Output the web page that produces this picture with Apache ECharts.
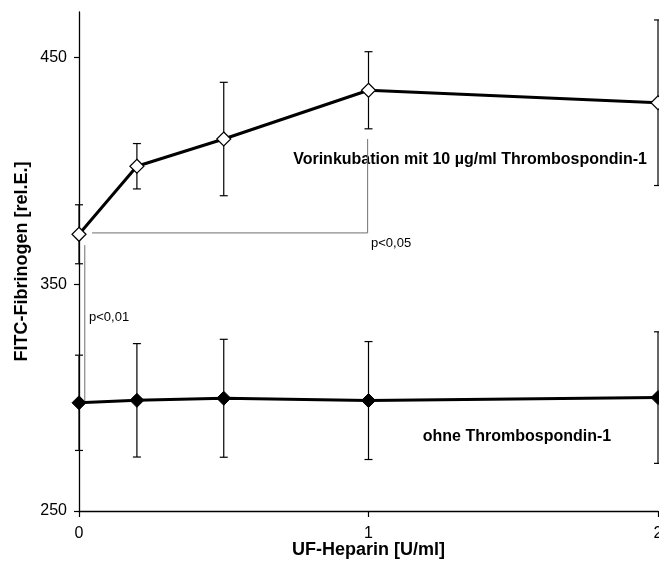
<!DOCTYPE html>
<html>
<head>
<meta charset="utf-8">
<script src="https://cdn.jsdelivr.net/npm/echarts@6/dist/echarts.min.js"></script>
<style>
  html, body { margin: 0; padding: 0; background: #fff; }
  #chart { width: 659px; height: 569px; }
</style>
</head>
<body>
<div id="chart"></div>
<script>
// UF-Heparin concentrations [U/ml]
const heparin = [0, 0.2, 0.5, 1, 2];
// FITC-Fibrinogen binding after pre-incubation with 10 µg/ml Thrombospondin-1
const withTsp = [372, 402, 414, 435.5, 430];
const withTspErr = [13, 10, 25, 17, 36.5];
// FITC-Fibrinogen binding without Thrombospondin-1
const withoutTsp = [297.7, 298.8, 299.7, 298.7, 300];
const withoutTspErr = [21, 25, 26, 26, 29];
// axis ticks
const xTicks = [0, 1, 2];
const yTicks = [250, 350, 450];
// significance brackets (heparin, fibrinogen)
const bracketP05 = [[0.045, 372.6], [0.997, 372.6], [0.997, 414]];
const bracketP01 = [[0.02, 367.2], [0.02, 298.4]];

const chart = echarts.init(document.getElementById('chart'), null, { renderer: 'canvas' });

function pairs(xs, ys) { return xs.map((x, i) => [x, ys[i]]); }
function errData(xs, ys, es) { return xs.map((x, i) => [x, ys[i], es[i]]); }

function renderErr(params, api) {
  const x = api.value(0), y = api.value(1), e = api.value(2);
  const top = api.coord([x, y + e]);
  const bot = api.coord([x, y - e]);
  const cap = 4;
  const style = { stroke: '#000', lineWidth: 1.2 };
  return {
    type: 'group',
    children: [
      { type: 'line', shape: { x1: top[0], y1: top[1], x2: bot[0], y2: bot[1] }, style },
      { type: 'line', shape: { x1: top[0] - cap, y1: top[1], x2: top[0] + cap, y2: top[1] }, style },
      { type: 'line', shape: { x1: bot[0] - cap, y1: bot[1], x2: bot[0] + cap, y2: bot[1] }, style }
    ]
  };
}

const font = 'Liberation Sans, Arial, sans-serif';

chart.setOption({
  animation: false,
  backgroundColor: '#fff',
  grid: { left: 79, right: 1, top: 12, bottom: 58, containLabel: false, outerBoundsMode: 'none' },
  xAxis: {
    type: 'value', min: 0, max: 2, interval: 1,
    name: 'UF-Heparin [U/ml]', nameLocation: 'middle', nameGap: 30, nameMoveOverlap: false,
    nameTextStyle: { fontFamily: font, fontWeight: 'bold', fontSize: 18, color: '#000' },
    axisLine: { onZero: false, lineStyle: { color: '#000', width: 1.3 } },
    axisTick: { length: 6, lineStyle: { color: '#000', width: 1.2 }, customValues: xTicks },
    axisLabel: { customValues: xTicks, fontFamily: font, fontSize: 16, color: '#000', margin: 15 },
    splitLine: { show: false }
  },
  yAxis: {
    type: 'value', min: 250, max: 470,
    name: 'FITC-Fibrinogen [rel.E.]', nameLocation: 'middle', nameGap: 48, nameMoveOverlap: false,
    nameTextStyle: { fontFamily: font, fontWeight: 'bold', fontSize: 18, color: '#000' },
    axisLine: { onZero: false, lineStyle: { color: '#000', width: 1.3 } },
    axisTick: { length: 5, lineStyle: { color: '#000', width: 1.2 }, customValues: yTicks },
    axisLabel: { customValues: yTicks, fontFamily: font, fontSize: 16, color: '#000', margin: 12 },
    splitLine: { show: false }
  },
  series: [
    {
      type: 'line', data: bracketP05, symbol: 'none', silent: true, z: 1,
      lineStyle: { color: '#707070', width: 1 }
    },
    {
      type: 'line', data: bracketP01, symbol: 'none', silent: true, z: 1,
      lineStyle: { color: '#707070', width: 1 }
    },
    {
      type: 'custom', renderItem: renderErr, data: errData(heparin, withTsp, withTspErr), z: 2, silent: true
    },
    {
      type: 'custom', renderItem: renderErr, data: errData(heparin, withoutTsp, withoutTspErr), z: 2, silent: true
    },
    {
      name: 'Vorinkubation mit 10 µg/ml Thrombospondin-1',
      type: 'line', data: pairs(heparin, withTsp), z: 3,
      symbol: 'diamond', symbolSize: [14, 14], showAllSymbol: true,
      lineStyle: { color: '#000', width: 3 },
      itemStyle: { color: '#fff', borderColor: '#000', borderWidth: 1.2 }
    },
    {
      name: 'ohne Thrombospondin-1',
      type: 'line', data: pairs(heparin, withoutTsp), z: 3,
      symbol: 'diamond', symbolSize: [14, 14], showAllSymbol: true,
      lineStyle: { color: '#000', width: 3 },
      itemStyle: { color: '#000', borderColor: '#000', borderWidth: 1 }
    }
  ],
  graphic: [
    {
      type: 'text', x: 647, y: 160, silent: true,
      style: { text: 'Vorinkubation mit 10 µg/ml Thrombospondin-1', font: 'bold 16px ' + font,
        fill: '#000', textAlign: 'right', textVerticalAlign: 'middle' }
    },
    {
      type: 'text', x: 517, y: 437, silent: true,
      style: { text: 'ohne Thrombospondin-1', font: 'bold 16px ' + font,
        fill: '#000', textAlign: 'center', textVerticalAlign: 'middle' }
    },
    {
      type: 'text', x: 371, y: 243, silent: true,
      style: { text: 'p<0,05', font: '13px ' + font, fill: '#000', textAlign: 'left', textVerticalAlign: 'middle' }
    },
    {
      type: 'text', x: 89, y: 317, silent: true,
      style: { text: 'p<0,01', font: '13px ' + font, fill: '#000', textAlign: 'left', textVerticalAlign: 'middle' }
    }
  ]
});
</script>
</body>
</html>
